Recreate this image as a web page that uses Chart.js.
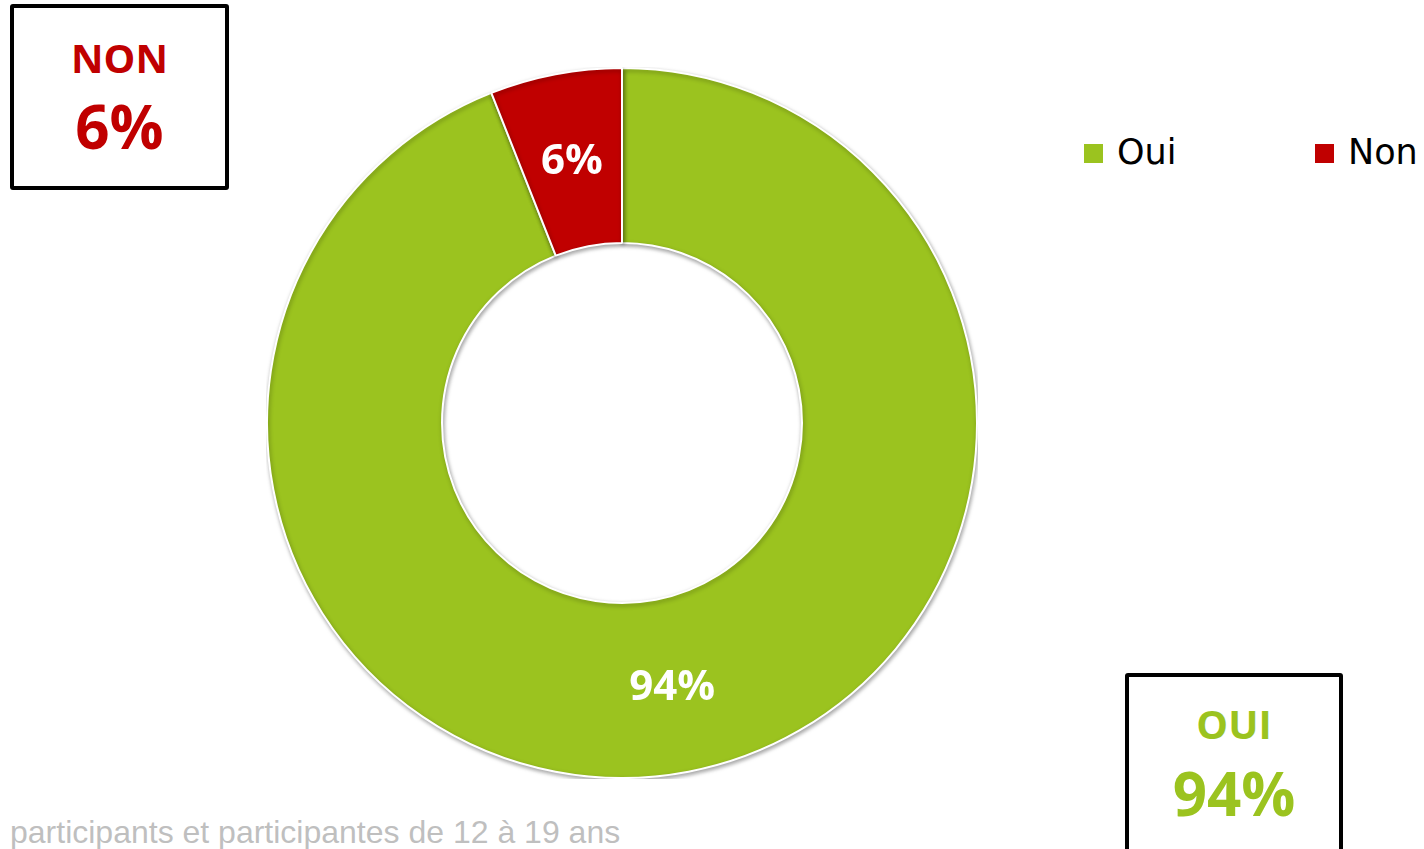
<!DOCTYPE html>
<html><head><meta charset="utf-8">
<script src="https://cdn.jsdelivr.net/npm/chart.js@4.4.0/dist/chart.umd.min.js"></script>
<style>
html,body{margin:0;padding:0;background:#fff;width:1424px;height:849px;overflow:hidden;position:relative;}
#wrap{position:absolute;left:266px;top:67px;width:712px;height:712px;}
.box{position:absolute;border:4px solid #000;border-radius:3px;background:#fff;box-sizing:border-box;font-family:"Open Sans",sans-serif;font-weight:700;text-align:center;}
#boxNon{left:10px;top:4px;width:219px;height:186px;color:#C00000;}
#boxOui{left:1125px;top:673px;width:218px;height:200px;color:#9BC31F;}
.lab{position:absolute;left:0;right:0;white-space:nowrap;}
.leg{position:absolute;top:131px;font-family:"DejaVu Sans",sans-serif;font-size:35px;color:#000;white-space:nowrap;}
.leg span.sw{position:absolute;left:0;top:13px;width:19px;height:19px;}
.leg span.t{position:absolute;left:33px;top:0;line-height:42px;}
#foot{position:absolute;left:10px;top:812px;font-family:"Liberation Sans",Arial,sans-serif;font-size:32px;color:#BFBFBF;white-space:nowrap;line-height:40px;}
</style></head>
<body>
<div id="wrap"><canvas id="c"></canvas></div>
<div id="boxNon" class="box"><div class="lab" style="top:25px;font-size:40px;line-height:50px;">NON</div><div class="lab" style="top:78px;font-size:60px;line-height:80px;">6%</div></div>
<div id="boxOui" class="box"><div class="lab" style="top:22px;font-size:40px;line-height:50px;">OUI</div><div class="lab" style="top:76px;font-size:60px;line-height:80px;">94%</div></div>
<div id="legend"></div>
<div id="foot">participants et participantes de 12 à 19 ans</div>
<script>
const categories = ["Oui", "Non"];
const values = [94, 6];
const colors = ["#9BC31F", "#C00000"];
const valueLabels = ["94%", "6%"];
const legendX = [1084, 1315];

const leg = document.getElementById('legend');
categories.forEach((c,i)=>{
  const d=document.createElement('div');d.className='leg';d.style.left=legendX[i]+'px';
  d.innerHTML='<span class="sw" style="background:'+colors[i]+'"></span><span class="t">'+c+'</span>';
  leg.appendChild(d);
});

const labelPlugin = {
  id:'segLabels',
  afterDatasetsDraw(chart){
    const ctx=chart.ctx;
    const meta=chart.getDatasetMeta(0);
    ctx.save();
    ctx.fillStyle='#fff';
    ctx.font='bold 42px "Open Sans", sans-serif';
    ctx.textAlign='center';ctx.textBaseline='middle';
    meta.data.forEach((arc,i)=>{
      const p=arc.tooltipPosition();
      ctx.fillText(valueLabels[i],p.x,p.y+2);
    });
    ctx.restore();
  }
};
const shadowPlugin = {
  id:'shadow',
  beforeDatasetsDraw(chart){
    const ctx=chart.ctx;ctx.save();
    ctx.shadowColor='rgba(0,0,0,0.35)';ctx.shadowBlur=4;ctx.shadowOffsetX=1;ctx.shadowOffsetY=2;
  },
  afterDatasetsDraw(chart){chart.ctx.restore();}
};

new Chart(document.getElementById('c'),{
  type:'doughnut',
  data:{labels:categories,datasets:[{data:values,backgroundColor:colors,borderColor:'#fff',borderWidth:2}]},
  options:{
    responsive:true,maintainAspectRatio:false,animation:false,
    cutout:'50.7%',
    layout:{padding:0},
    plugins:{legend:{display:false},tooltip:{enabled:false}}
  },
  plugins:[shadowPlugin,labelPlugin]
});
</script>
</body></html>
